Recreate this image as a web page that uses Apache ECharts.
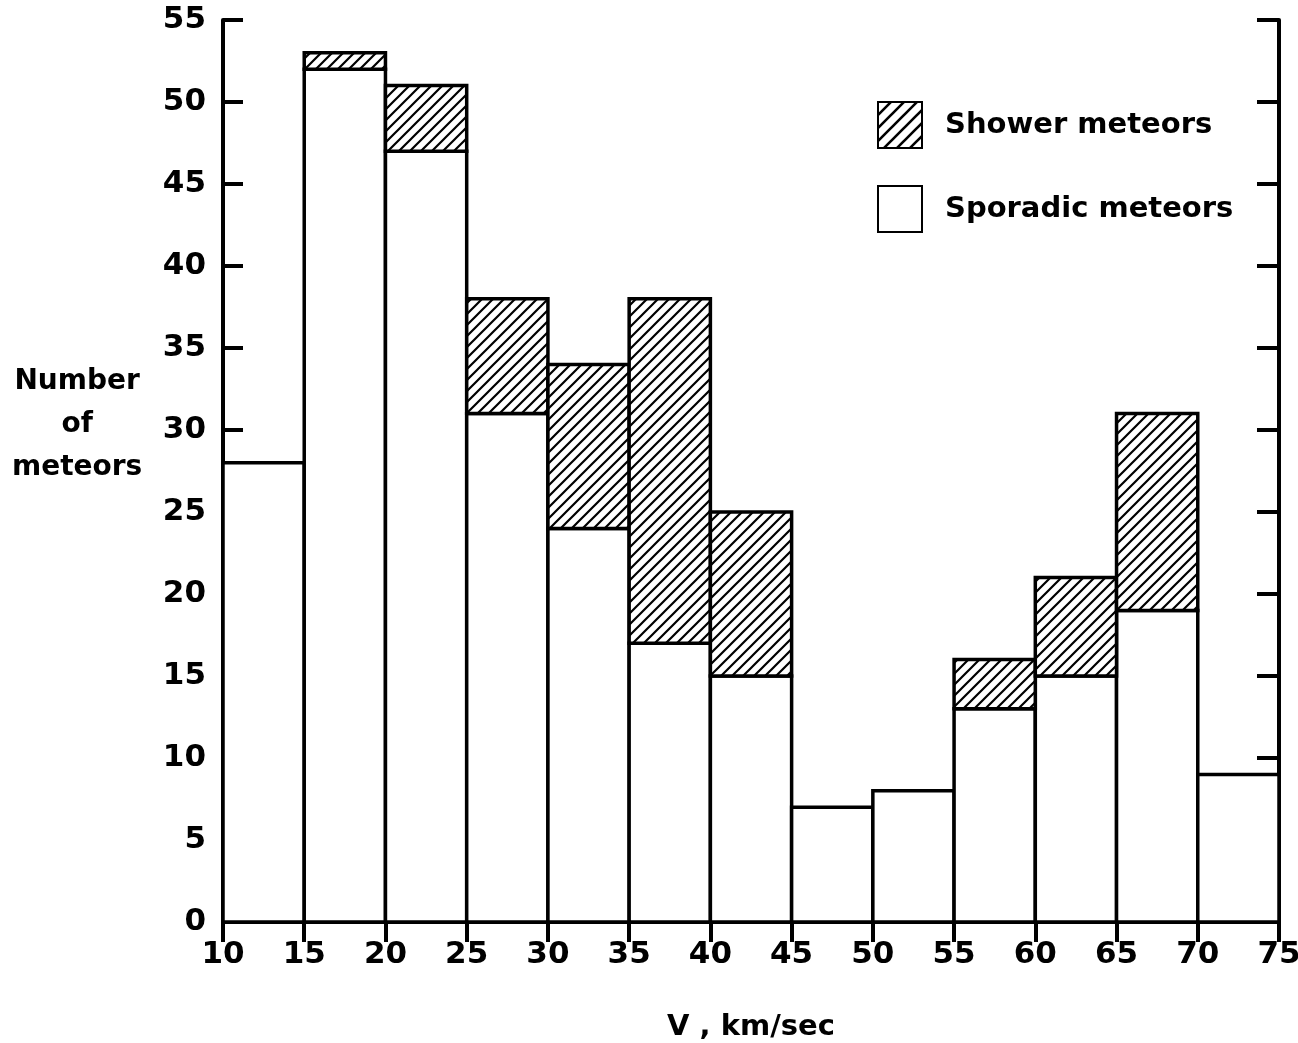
<!DOCTYPE html>
<html>
<head>
<meta charset="utf-8">
<script src="https://cdn.jsdelivr.net/npm/echarts@6/dist/echarts.min.js"></script>
<style>
html,body{margin:0;padding:0;background:#fff;}
#chart{width:1298px;height:1043px;}
</style>
</head>
<body>
<div id="chart"></div>
<script>
// Bin starts (km/sec), bin width 5
var binStarts = [10, 15, 20, 25, 30, 35, 40, 45, 50, 55, 60, 65, 70];
var binWidth = 5;
var sporadic = [28, 52, 47, 31, 24, 17, 15, 7, 8, 13, 15, 19, 9];
var shower   = [0, 1, 4, 7, 10, 21, 10, 0, 0, 3, 6, 12, 0];
var xTicks = [10, 15, 20, 25, 30, 35, 40, 45, 50, 55, 60, 65, 70, 75];
var yTicks = [0, 5, 10, 15, 20, 25, 30, 35, 40, 45, 50, 55];

function makeHatch(size, lw) {
  var c = document.createElement('canvas');
  c.width = size; c.height = size;
  var ctx = c.getContext('2d');
  ctx.fillStyle = '#fff';
  ctx.fillRect(0, 0, size, size);
  ctx.strokeStyle = '#000';
  ctx.lineWidth = lw;
  ctx.beginPath();
  ctx.moveTo(-2, size + 2); ctx.lineTo(size + 2, -2);
  ctx.moveTo(-2, 2); ctx.lineTo(2, -2);
  ctx.moveTo(size - 2, size + 2); ctx.lineTo(size + 2, size - 2);
  ctx.stroke();
  return c;
}
var hatch = { image: makeHatch(11, 2.2), repeat: 'repeat' };
var hatchLegend = { image: makeHatch(13, 2.6), repeat: 'repeat' };

var FONT = 'DejaVu Sans';
var chart = echarts.init(document.getElementById('chart'));

var sporadicData = binStarts.map(function (s, i) { return [s, s + binWidth, 0, sporadic[i]]; });
var showerData = binStarts.map(function (s, i) { return [s, s + binWidth, sporadic[i], sporadic[i] + shower[i]]; })
  .filter(function (d) { return d[3] > d[2]; });

function rectItem(fill) {
  return function (params, api) {
    var p0 = api.coord([api.value(0), api.value(2)]);
    var p1 = api.coord([api.value(1), api.value(3)]);
    return {
      type: 'rect',
      shape: { x: p0[0], y: p1[1], width: p1[0] - p0[0], height: p0[1] - p1[1] },
      style: { fill: fill, stroke: '#000', lineWidth: 3.5 }
    };
  };
}

var axisLabelStyle = { fontFamily: FONT, fontWeight: 'bold', fontSize: 31, color: '#000' };

chart.setOption({
  animation: false,
  backgroundColor: '#fff',
  grid: { left: 223, right: 19, top: 20, bottom: 121, containLabel: false, outerBoundsMode: 'none' },
  xAxis: [{
    type: 'value', min: 10, max: 75, interval: 5, position: 'bottom',
    axisLine: { show: true, lineStyle: { color: '#000', width: 4 } },
    axisTick: { show: true, inside: true, length: 20, lineStyle: { color: '#000', width: 4 } },
    axisLabel: Object.assign({ margin: 17, formatter: function (v) { return xTicks.indexOf(v) >= 0 ? String(v) : ''; } }, axisLabelStyle),
    splitLine: { show: false },
    name: 'V , km/sec', nameLocation: 'middle', nameGap: 91,
    nameTextStyle: { fontFamily: FONT, fontWeight: 'bold', fontSize: 29, color: '#000' }
  }, {
    type: 'value', min: 10, max: 75, interval: 5, position: 'top',
    axisLine: { show: true, lineStyle: { color: '#000', width: 4 } },
    axisTick: { show: true, inside: true, length: 20, lineStyle: { color: '#000', width: 4 } },
    axisLabel: { show: false }, splitLine: { show: false }
  }],
  yAxis: [{
    type: 'value', min: 0, max: 55, interval: 5, position: 'left',
    axisLine: { show: true, lineStyle: { color: '#000', width: 4 } },
    axisTick: { show: true, inside: true, length: 20, lineStyle: { color: '#000', width: 4 } },
    axisLabel: Object.assign({ margin: 17, padding: [10, 0, 0, 0], formatter: function (v) { return yTicks.indexOf(v) >= 0 ? String(v) : ''; } }, axisLabelStyle),
    splitLine: { show: false }
  }, {
    type: 'value', min: 0, max: 55, interval: 5, position: 'right',
    axisLine: { show: true, lineStyle: { color: '#000', width: 4 } },
    axisTick: { show: true, inside: true, length: 22, lineStyle: { color: '#000', width: 4 } },
    axisLabel: { show: false }, splitLine: { show: false }
  }],
  legend: {
    orient: 'vertical', left: 872, top: 96,
    itemWidth: 44, itemHeight: 46, itemGap: 36,
    icon: 'rect',
    textStyle: { fontFamily: FONT, fontWeight: 'bold', fontSize: 29, color: '#000', padding: [0, 0, 0, 18] },
    data: ['Shower meteors', 'Sporadic meteors']
  },
  graphic: [{
    type: 'text', left: 12, top: 360,
    style: {
      text: 'Number\nof\nmeteors', fill: '#000', align: 'center',
      font: 'bold 28px "' + FONT + '"', lineHeight: 43, textAlign: 'center'
    }
  }],
  series: [{
    name: 'Sporadic meteors', type: 'custom',
    itemStyle: { color: '#fff', borderColor: '#000', borderWidth: 3.5 },
    encode: { x: [0, 1], y: [2, 3] },
    renderItem: rectItem('#fff'),
    data: sporadicData
  }, {
    name: 'Shower meteors', type: 'custom',
    itemStyle: { color: hatchLegend, borderColor: '#000', borderWidth: 3.5 },
    encode: { x: [0, 1], y: [2, 3] },
    renderItem: rectItem(hatch),
    data: showerData
  }]
});
</script>
</body>
</html>
